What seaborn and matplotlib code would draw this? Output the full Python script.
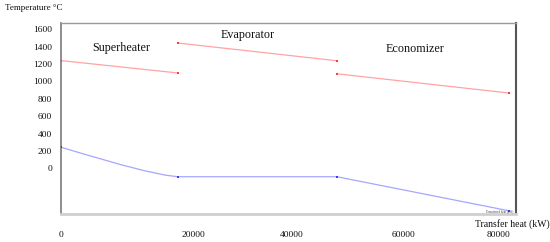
import pandas as pd
import numpy as np
import matplotlib
matplotlib.use("Agg")
import matplotlib.pyplot as plt
import seaborn as sns

# Hot gas side (red), kW vs temperature
sh_x = [0, 20300]
sh_gas = [1240, 1097]
ev_x = [20300, 47900]
ev_gas = [1442, 1238]
ec_x = [47900, 77700]
ec_gas = [1088, 867]

# Water / steam side (blue)
water_x = [0, 4700, 10500, 14500, 18200, 20300, 47900, 77700]
water_t = [242, 150, 40, -28, -80, -97, -97, -488]
water_end_x = [0, 20300, 47900, 77700]
water_end_t = [242, -97, -97, -488]

yticks = [0, 200, 400, 600, 800, 1000, 1200, 1400, 1600]
xtick_pos = [0, 23000, 40000, 59400, 75900]
xtick_labels = ["0", "20000", "40000", "60000", "80000"]

sns.set_style("white")
plt.rcParams["font.family"] = ["Liberation Serif", "DejaVu Serif"]

fig = plt.figure(figsize=(5.5, 2.42), dpi=100)
ax = fig.add_axes([0.1109, 0.1157, 0.8273, 0.788])

red_line = "#ffa3a3"
red_mark = "#ff3b3b"
blue_line = "#a6a6ff"
blue_mark = "#3a3aff"

for xs, ys in [(sh_x, sh_gas), (ev_x, ev_gas), (ec_x, ec_gas)]:
    seg = pd.DataFrame({"x": xs, "y": ys})
    sns.lineplot(data=seg, x="x", y="y", ax=ax, color=red_line, lw=0.9, sort=False)
    sns.scatterplot(data=seg, x="x", y="y", ax=ax, color=red_mark, marker="s",
                    s=4, linewidth=0, zorder=5)

water = pd.DataFrame({"x": water_x, "y": water_t})
sns.lineplot(data=water, x="x", y="y", ax=ax, color=blue_line, lw=0.9, sort=False)
ends = pd.DataFrame({"x": water_end_x, "y": water_end_t})
sns.scatterplot(data=ends, x="x", y="y", ax=ax, color=blue_mark, marker="s",
                s=4, linewidth=0, zorder=5)

ax.set_xlim(0, 79000)
ax.set_ylim(-526, 1669)
ax.set_yticks(yticks)
ax.set_yticklabels([str(t) for t in yticks])
ax.set_xticks(xtick_pos)
ax.set_xticklabels(xtick_labels)
ax.tick_params(axis="both", length=0, labelsize=6.8, colors="#111111")
ax.tick_params(axis="y", pad=6.5)
ax.tick_params(axis="x", pad=12.5)
ax.set_xlabel("")
ax.set_ylabel("")

for side, col, w in [("left", "#7a7a7a", 1.2), ("top", "#9a9a9a", 1.0),
                     ("right", "#555555", 1.5), ("bottom", "#cfcfcf", 2.0)]:
    ax.spines[side].set_visible(True)
    ax.spines[side].set_color(col)
    ax.spines[side].set_linewidth(w)

ax.text(0.132, 0.869, "Superheater", transform=ax.transAxes, fontsize=8.7,
        ha="center", va="center", color="#111111")
ax.text(0.411, 0.939, "Evaporator", transform=ax.transAxes, fontsize=8.7,
        ha="center", va="center", color="#111111")
ax.text(0.778, 0.865, "Economizer", transform=ax.transAxes, fontsize=8.7,
        ha="center", va="center", color="#111111")
ax.text(0.993, 0.005, "Transferred heat (kW)", transform=ax.transAxes,
        fontsize=2.2, ha="right", va="bottom", color="#333333")

fig.text(34 / 550, 1 - 7.5 / 242, "Temperature \u00b0C", fontsize=6.5,
         ha="center", va="center", color="#111111")
fig.text(512 / 550, 1 - 224.5 / 242, "Transfer heat (kW)", fontsize=7,
         ha="center", va="center", color="#111111")

fig.savefig("out.png", dpi=100)
